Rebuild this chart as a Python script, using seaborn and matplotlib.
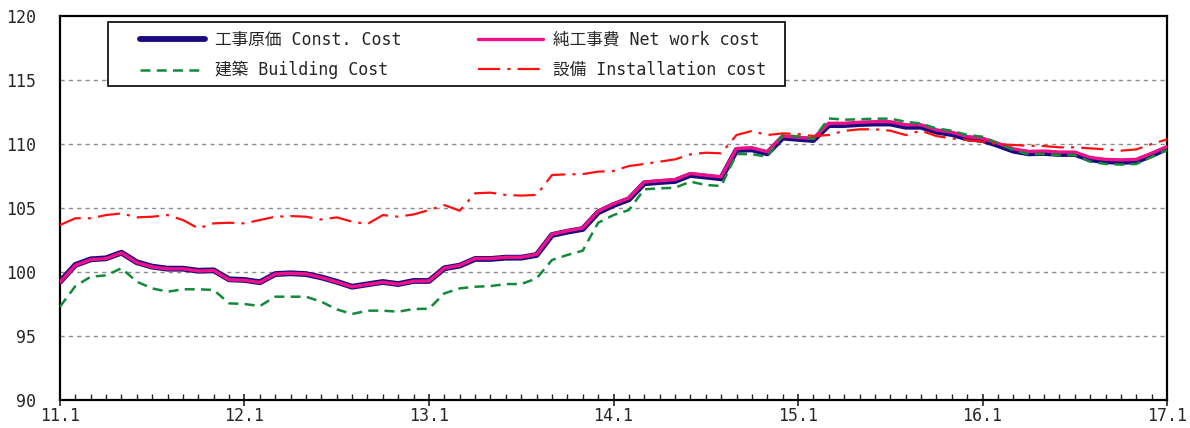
import matplotlib
matplotlib.use("Agg")

import matplotlib.pyplot as plt
import numpy as np
import pandas as pd
import seaborn as sns
from matplotlib.patches import Rectangle
from matplotlib.ticker import MultipleLocator, FixedLocator


# monthly index, Jan 2011 .. Jan 2017
months = list(range(73))
year_labels = ["11.1", "12.1", "13.1", "14.1", "15.1", "16.1", "17.1"]
y_ticks = [90, 95, 100, 105, 110, 115, 120]

const_cost = [
    99.24, 100.55, 100.99, 101.07, 101.51, 100.76, 100.42, 100.26, 100.26, 100.10, 100.13,
    99.43, 99.38, 99.20, 99.84, 99.90, 99.84, 99.58, 99.24, 98.85, 99.04, 99.22,
    99.06, 99.30, 99.30, 100.29, 100.50, 101.02, 101.02, 101.12, 101.12, 101.33,
    102.89, 103.15, 103.36, 104.66, 105.23, 105.68, 106.93, 107.03, 107.11, 107.58, 107.45, 107.32,
    109.53, 109.58, 109.27, 110.50, 110.40, 110.31,
    111.48, 111.48, 111.56, 111.60, 111.60, 111.35, 111.35, 110.96, 110.78, 110.44, 110.31,
    109.92, 109.48, 109.27, 109.30, 109.22, 109.22, 108.80, 108.65, 108.60, 108.65, 109.14, 109.66,
]

net_work_cost = [
    99.20, 100.52, 100.97, 101.05, 101.50, 100.74, 100.40, 100.24, 100.25, 100.08, 100.12,
    99.40, 99.36, 99.18, 99.84, 99.90, 99.85, 99.57, 99.22, 98.84, 99.03, 99.20,
    99.05, 99.28, 99.30, 100.30, 100.52, 101.05, 101.05, 101.15, 101.15, 101.38,
    102.95, 103.22, 103.44, 104.75, 105.32, 105.78, 107.03, 107.13, 107.22, 107.70, 107.56, 107.44,
    109.65, 109.70, 109.40, 110.62, 110.52, 110.43,
    111.62, 111.62, 111.70, 111.74, 111.74, 111.50, 111.50, 111.10, 110.92, 110.58, 110.45,
    110.06, 109.62, 109.42, 109.45, 109.37, 109.37, 108.95, 108.80, 108.76, 108.80, 109.28, 109.80,
]

building_cost = [
    97.29, 98.90, 99.63, 99.74, 100.29, 99.24, 98.72, 98.46, 98.65, 98.65, 98.60,
    97.55, 97.50, 97.34, 98.07, 98.07, 98.07, 97.68, 97.08, 96.72, 96.98, 96.98,
    96.90, 97.11, 97.13, 98.33, 98.72, 98.85, 98.90, 99.06, 99.06, 99.50,
    100.94, 101.33, 101.67, 103.85, 104.45, 104.84, 106.46, 106.54, 106.58, 107.06, 106.80, 106.72,
    109.22, 109.20, 109.01, 110.70, 110.60, 110.40,
    112.00, 111.90, 111.93, 111.98, 111.98, 111.74, 111.60, 111.22, 111.04, 110.70, 110.57,
    110.05, 109.53, 109.20, 109.22, 109.14, 109.14, 108.62, 108.44, 108.39, 108.44, 108.99, 109.53,
]

installation_cost = [
    103.67, 104.20, 104.20, 104.45, 104.58, 104.27, 104.32, 104.45, 104.06, 103.41, 103.80,
    103.85, 103.80, 104.06, 104.32, 104.37, 104.32, 104.10, 104.27, 103.93, 103.75, 104.45,
    104.32, 104.50, 104.84, 105.23, 104.79, 106.15, 106.20, 106.02, 105.97, 106.02,
    107.58, 107.63, 107.65, 107.84, 107.89, 108.28, 108.44, 108.62, 108.80, 109.19, 109.32, 109.27,
    110.70, 111.02, 110.70, 110.83, 110.78, 110.62,
    110.70, 111.02, 111.15, 111.15, 111.04, 110.70, 111.04, 110.62, 110.44, 110.31, 110.18,
    110.00, 109.92, 109.87, 109.84, 109.74, 109.74, 109.66, 109.58, 109.48, 109.58, 110.00, 110.36,
]

labels = [
    "工事原価 Const. Cost",
    "純工事費 Net work cost",
    "建築 Building Cost",
    "設備 Installation cost",
]


def main():
    sns.set_style("white")
    plt.rcParams["font.family"] = ["DejaVu Sans Mono", "Noto Sans CJK JP"]

    df = pd.DataFrame({
        "month": months,
        "const": const_cost,
        "net": net_work_cost,
        "building": building_cost,
        "install": installation_cost,
    })

    fig = plt.figure(figsize=(11.9, 4.28), dpi=100)
    ax = fig.add_axes([0.0504, 0.0654, 0.9303, 0.8972])

    for yv in y_ticks[1:-1]:
        ax.axhline(yv, color="#8c8c8c", linewidth=1.0, linestyle=(0, (3, 3)), zorder=0)

    sns.lineplot(data=df, x="month", y="const", ax=ax, color="#1a0a80",
                 linewidth=4.2, label=labels[0], zorder=2)
    sns.lineplot(data=df, x="month", y="net", ax=ax, color="#f0108a",
                 linewidth=2.4, label=labels[1], zorder=3)
    sns.lineplot(data=df, x="month", y="building", ax=ax, color="#138a3a",
                 linewidth=1.8, linestyle=(0, (4, 2.5)), label=labels[2], zorder=4)
    sns.lineplot(data=df, x="month", y="install", ax=ax, color="#ff1010",
                 linewidth=1.6, linestyle=(0, (10, 3.2, 1.4, 3.2)), label=labels[3], zorder=5)

    ax.set_xlim(0, 72)
    ax.set_ylim(90, 120)
    ax.set_xlabel("")
    ax.set_ylabel("")

    ax.xaxis.set_major_locator(FixedLocator(range(0, 73, 12)))
    ax.set_xticklabels(year_labels)
    ax.xaxis.set_minor_locator(MultipleLocator(1))
    ax.set_yticks(y_ticks)

    ax.tick_params(axis="x", which="major", direction="inout", length=8, width=1.2,
                   labelsize=12, pad=1, bottom=True)
    ax.tick_params(axis="x", which="minor", direction="in", length=4, width=1.0, bottom=True)
    ax.tick_params(axis="y", length=0, labelsize=12, pad=17)

    for spine in ax.spines.values():
        spine.set_visible(True)
        spine.set_color("black")
        spine.set_linewidth(1.6)

    # legend frame drawn separately so the inner padding can differ per side
    box = Rectangle((0.0434, 0.818), 0.6115, 0.166, transform=ax.transAxes,
                    facecolor="white", edgecolor="black", linewidth=1.2, zorder=6)
    ax.add_patch(box)

    handles, lbls = ax.get_legend_handles_labels()
    order = [0, 2, 1, 3]
    leg = ax.legend(
        [handles[i] for i in order],
        [lbls[i] for i in order],
        ncol=2,
        loc="upper left",
        bbox_to_anchor=(0.0723, 0.962),
        borderaxespad=0,
        borderpad=0,
        frameon=False,
        fontsize=12,
        handlelength=3.9,
        handletextpad=0.6,
        labelspacing=0.75,
        columnspacing=4.6,
    )
    leg.set_zorder(7)

    fig.savefig("out.png", dpi=100)
    plt.close(fig)


if __name__ == "__main__":
    main()
